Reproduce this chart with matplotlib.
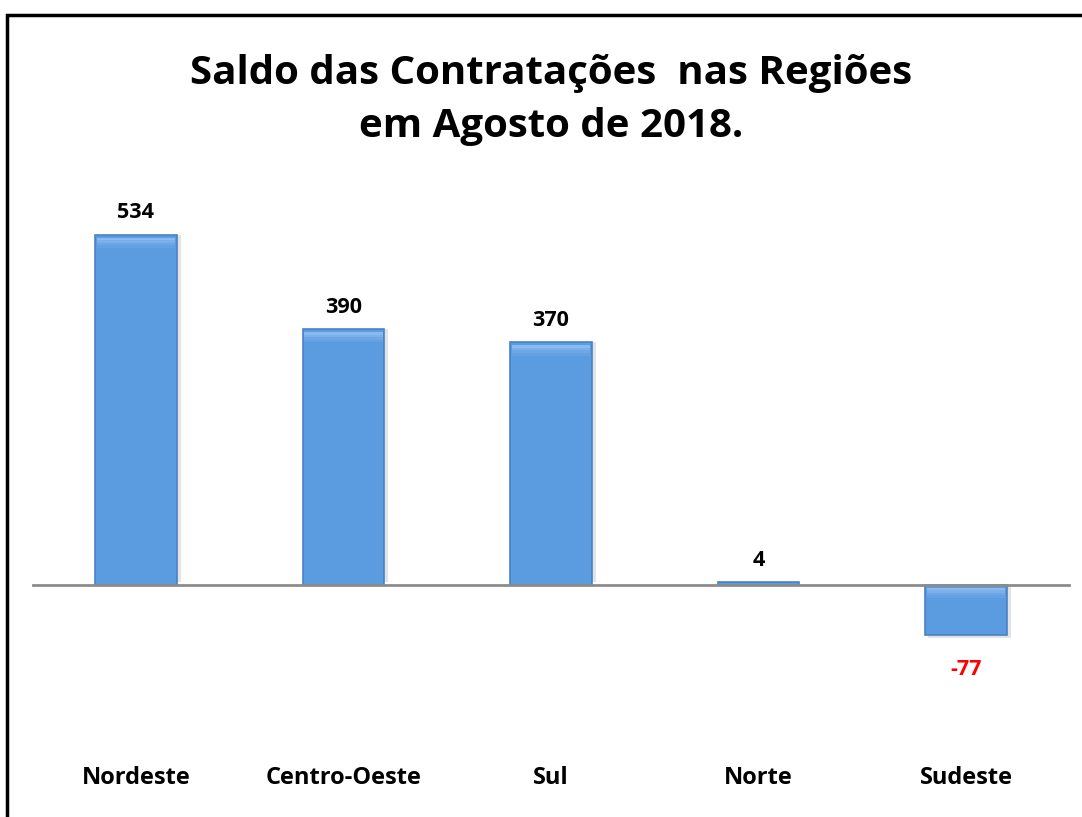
import matplotlib.pyplot as plt
from matplotlib.patches import Rectangle

# data
regioes = ["Nordeste", "Centro-Oeste", "Sul", "Norte", "Sudeste"]
saldo = [534, 390, 370, 4, -77]
titulo = "Saldo das Contratações  nas Regiões\nem Agosto de 2018."

W, H = 1082, 817
fig = plt.figure(figsize=(W / 100, H / 100), dpi=100)
fig.patch.set_facecolor("white")

# frame around the chart (only top and left visible)
fig.add_artist(Rectangle((7 / W, -0.1), 1.2, 1 - 15 / H + 0.1, transform=fig.transFigure,
                         fill=False, edgecolor="black", linewidth=2.5))

ax = fig.add_axes([0, 0, 1, 1])
ax.set_axis_off()

# pixel mapping: centers at 136 + 207.5*i, zero at y=585, 0.6554 px per unit
step = 207.5
ax.set_xlim(-136 / step, (W - 136) / step)
scale = 350 / 534
ax.set_ylim(-(H - 585) / scale, 585 / scale)

x = list(range(len(regioes)))

# soft shadow
ax.bar([i + 0.015 for i in x], [v - 4 if v > 0 else v - 4 for v in saldo], width=0.40,
       bottom=[4 if v > 0 else 0 for v in saldo],
       color="#c8c8c8", alpha=0.5, zorder=1)
ax.bar(x, saldo, width=0.395, color="#5b9be0", edgecolor="#4a82c6", linewidth=1.2, zorder=2)
# bevel highlight near the top edge of each bar
for i, v in zip(x, saldo):
    if abs(v) < 10:
        continue
    top = v if v > 0 else 0
    for k, a in enumerate([0.75, 0.5, 0.3, 0.15]):
        ax.add_patch(Rectangle((i - 0.19, top - 4 - 4 * (k + 1)), 0.38, 4,
                               facecolor="#9cc6f4", edgecolor="none", alpha=a, zorder=3))

ax.axhline(0, xmin=33 / W, xmax=1069 / W, color="#8c8c8c", linewidth=2, zorder=4)

fnt = "Open Sans"
for i, v in zip(x, saldo):
    if v >= 0:
        ax.text(i, v + 18, str(v), ha="center", va="bottom", fontsize=15.5,
                fontweight="bold", family=fnt, color="black")
    else:
        ax.text(i, v - 36, str(v), ha="center", va="top", fontsize=15.5,
                fontweight="bold", family=fnt, color="#ff0000")

for i, r in zip(x, regioes):
    ax.text(i, -295, r, ha="center", va="center", fontsize=17,
            fontweight="bold", family=fnt, color="black")

fig.text(551 / W, 1 - 100 / H, titulo, ha="center", va="center", fontsize=29,
         fontweight="bold", family=fnt, linespacing=1.45)

fig.savefig("out.png", dpi=100)
